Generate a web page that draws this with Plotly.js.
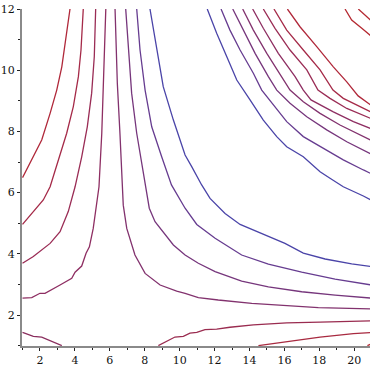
<!DOCTYPE html>
<html>
<head>
<meta charset="utf-8">
<script src="https://cdn.plot.ly/plotly-3.0.1.min.js"></script>
<style>html,body{margin:0;padding:0;background:#fff;}#chart{width:370px;height:370px;}</style>
</head>
<body>
<div id="chart"></div>
<script>
// Contour lines (x, y in data units)
const L1x = [1.0, 1.53, 2.10, 2.58, 2.96, 3.25, 3.47, 3.62, 3.72];
const L1y = [6.49, 7.07, 7.72, 8.59, 9.35, 10.11, 10.99, 11.64, 12.0];
const L2x = [1.0, 1.62, 2.19, 2.58, 3.05, 3.53, 3.91, 4.20, 4.35, 4.48];
const L2y = [4.96, 5.36, 5.76, 6.19, 7.07, 7.94, 8.81, 9.79, 10.66, 12.0];
const L3x = [1.0, 1.62, 2.58, 3.15, 3.62, 4.01, 4.39, 4.71, 4.96, 5.11, 5.19];
const L3y = [3.69, 3.91, 4.34, 4.72, 5.38, 6.19, 7.17, 8.15, 9.25, 10.44, 12.0];
const L4x = [1.0, 1.53, 2.0, 2.29, 3.15, 3.82, 4.01, 4.39, 4.64, 4.83, 5.05, 5.25, 5.38, 5.54, 5.63, 5.73, 5.77];
const L4y = [2.55, 2.57, 2.71, 2.71, 2.98, 3.20, 3.40, 3.60, 4.02, 4.23, 4.83, 5.59, 6.19, 7.94, 9.57, 11.21, 12.0];
const L5x = [6.30, 6.43, 6.58, 6.72, 6.77, 6.97, 7.44, 8.02, 8.88, 9.83, 10.31, 11.07, 12.21, 14.13, 16.03, 17.94, 21.0];
const L5y = [12.0, 9.57, 7.94, 6.25, 5.59, 4.83, 3.96, 3.36, 2.98, 2.78, 2.71, 2.57, 2.49, 2.38, 2.30, 2.24, 2.20];
const L6x = [6.91, 7.06, 7.25, 7.54, 8.04, 8.26, 8.59, 9.06, 9.64, 10.31, 11.07, 12.03, 13.55, 15.08, 16.99, 18.90, 21.0];
const L6y = [12.0, 10.66, 9.25, 7.94, 6.25, 5.49, 5.05, 4.72, 4.29, 3.96, 3.69, 3.42, 3.11, 2.92, 2.76, 2.65, 2.55];
const L7x = [7.54, 7.73, 8.02, 8.40, 8.97, 9.53, 10.31, 10.98, 12.03, 13.55, 15.08, 16.99, 18.90, 21.0];
const L7y = [12.0, 10.66, 9.35, 8.15, 7.17, 6.25, 5.49, 4.96, 4.51, 3.96, 3.66, 3.40, 3.17, 2.98];
const L8x = [8.30, 8.69, 9.06, 9.64, 10.31, 10.69, 11.26, 11.74, 12.60, 13.46, 14.89, 16.03, 17.08, 18.33, 19.85, 21.0];
const L8y = [12.0, 10.66, 9.46, 8.37, 7.23, 6.85, 6.25, 5.81, 5.32, 4.96, 4.61, 4.34, 4.02, 3.83, 3.67, 3.58];
const U1x = [11.58, 12.12, 12.70, 13.27, 14.03, 14.79, 15.56, 16.13, 17.08, 18.04, 18.61, 19.37, 20.52, 21.0];
const U1y = [12.0, 11.21, 10.44, 9.68, 9.03, 8.37, 7.83, 7.50, 7.17, 6.68, 6.47, 6.19, 5.89, 5.74];
const U2x = [12.37, 12.88, 13.46, 14.22, 14.70, 15.36, 16.13, 17.08, 18.23, 19.37, 20.52, 21.0];
const U2y = [12.0, 11.31, 10.66, 9.90, 9.35, 8.86, 8.32, 7.83, 7.45, 7.07, 6.74, 6.61];
const U3x = [13.04, 13.65, 14.32, 15.08, 15.56, 16.32, 17.28, 18.42, 19.57, 21.0];
const U3y = [12.0, 11.31, 10.55, 9.79, 9.35, 8.92, 8.48, 8.05, 7.66, 7.25];
const U4x = [13.61, 14.22, 14.99, 15.85, 16.32, 17.08, 18.04, 19.18, 20.33, 21.0];
const U4y = [12.0, 11.31, 10.55, 9.79, 9.35, 8.97, 8.59, 8.21, 7.88, 7.70];
const U5x = [14.18, 14.79, 15.65, 16.61, 17.08, 17.52, 18.80, 19.95, 21.0];
const U5y = [12.0, 11.37, 10.55, 9.79, 9.35, 9.03, 8.64, 8.32, 8.08];
const U6x = [14.79, 15.46, 16.32, 17.28, 17.92, 18.61, 19.57, 21.0];
const U6y = [12.0, 11.37, 10.66, 10.01, 9.35, 9.08, 8.75, 8.41];
const U7x = [15.40, 16.13, 17.08, 18.04, 18.78, 19.37, 20.33, 21.0];
const U7y = [12.0, 11.31, 10.66, 10.01, 9.35, 9.08, 8.81, 8.62];
const U8x = [16.17, 16.89, 17.85, 18.80, 19.57, 20.22, 21.0];
const U8y = [12.0, 11.42, 10.77, 10.11, 9.62, 9.16, 8.84];
const U9x = [19.47, 19.85, 20.43, 21.0];
const U9y = [12.0, 11.64, 11.37, 11.10];
const U10x = [20.23, 20.71, 21.0];
const U10y = [12.0, 11.75, 11.60];
const B1x = [1.0, 1.62, 2.10, 2.67, 3.25];
const B1y = [1.43, 1.30, 1.28, 1.14, 1.0];
const B2x = [8.78, 9.26, 9.73, 10.21, 10.59, 10.98, 11.45, 12.12, 12.88, 14.22, 16.13, 18.04, 21.0];
const B2y = [1.0, 1.14, 1.28, 1.30, 1.41, 1.43, 1.52, 1.54, 1.60, 1.68, 1.74, 1.77, 1.81];
const B3x = [14.51, 16.13, 18.04, 19.95, 21.0];
const B3y = [1.0, 1.14, 1.28, 1.39, 1.43];
const B4x = [20.75, 21.0];
const B4y = [1.0, 1.06];

const xTicks = [2, 4, 6, 8, 10, 12, 14, 16, 18, 20];
const yTicks = [2, 4, 6, 8, 10, 12];

const lines = [
  [L1x, L1y, '#b0283a'], [L2x, L2y, '#a52a48'], [L3x, L3y, '#9a2c55'], [L4x, L4y, '#8e2e62'],
  [L5x, L5y, '#82326e'], [L6x, L6y, '#76367c'], [L7x, L7y, '#663c90'], [L8x, L8y, '#4a44a8'],
  [U1x, U1y, '#4a44a8'], [U2x, U2y, '#663c90'], [U3x, U3y, '#76367c'], [U4x, U4y, '#82326e'],
  [U5x, U5y, '#8e2e62'], [U6x, U6y, '#9a2c55'], [U7x, U7y, '#a52a48'], [U8x, U8y, '#b0283a'],
  [U9x, U9y, '#b42830'], [U10x, U10y, '#b42830'],
  [B1x, B1y, '#8a2e5e'], [B2x, B2y, '#9a2c50'], [B3x, B3y, '#a82a40'], [B4x, B4y, '#b42830']
];

const traces = lines.map(([x, y, c]) => ({
  type: 'scatter', mode: 'lines', x: x, y: y,
  line: {color: c, width: 1.3}, hoverinfo: 'skip', showlegend: false
}));

const axisCommon = {
  showgrid: false, zeroline: false, showline: true, linecolor: '#8a8a8a', linewidth: 2,
  ticks: 'outside', ticklen: 3, tickcolor: '#222', tickwidth: 1,
  tickfont: {family: 'DejaVu Serif', size: 11, color: '#111'},
  minor: {ticks: 'outside', ticklen: 2, tickcolor: '#222', tickwidth: 1, showgrid: false}
};

const layout = {
  width: 370, height: 370,
  margin: {l: 22, r: 0, t: 9, b: 24, pad: 0},
  paper_bgcolor: '#fff', plot_bgcolor: '#fff',
  xaxis: Object.assign({}, axisCommon, {
    range: [0.971, 20.9], tickmode: 'array', tickvals: xTicks, ticktext: xTicks.map(String),
    minor: Object.assign({}, axisCommon.minor, {tick0: 1, dtick: 2})
  }),
  yaxis: Object.assign({}, axisCommon, {
    range: [0.987, 12.0], tickmode: 'array', tickvals: yTicks, ticktext: yTicks.map(String),
    minor: Object.assign({}, axisCommon.minor, {tick0: 1, dtick: 2})
  })
};

Plotly.newPlot('chart', traces, layout, {staticPlot: true, displayModeBar: false});
</script>
</body>
</html>
